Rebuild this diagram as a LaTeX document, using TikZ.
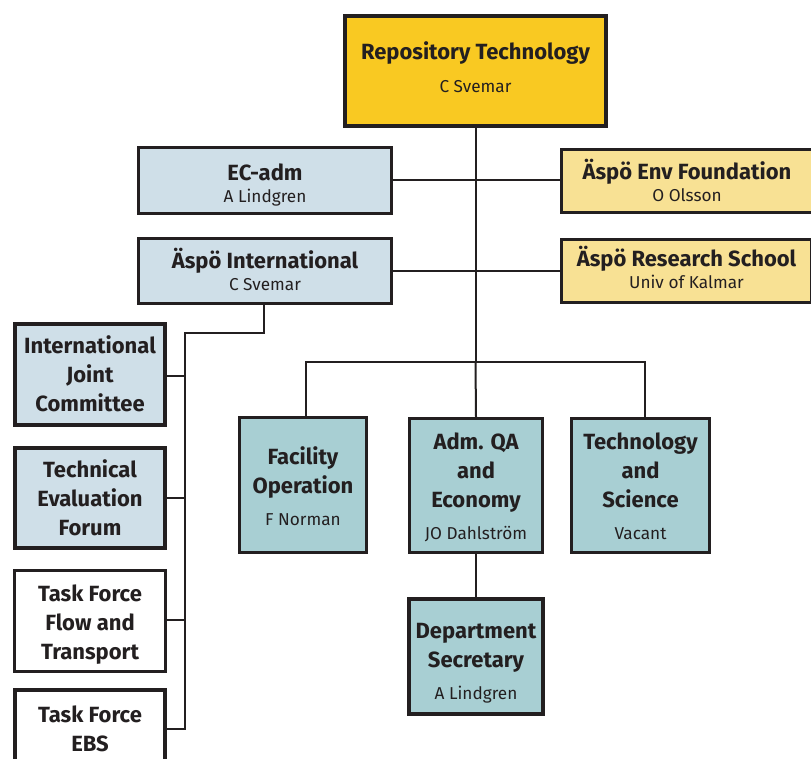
\documentclass[tikz,border=0pt]{standalone}
\usepackage{fontspec}
\setmainfont{Fira Sans}
\definecolor{ink}{HTML}{231F20}
\definecolor{gold}{HTML}{F9C922}
\definecolor{paleblue}{HTML}{CFDFE8}
\definecolor{paleyellow}{HTML}{F8E194}
\definecolor{teal}{HTML}{A8CFD3}
\newcommand\ttl{\fontsize{22}{29}\selectfont\bfseries}
\newcommand\sbt{\fontsize{17.2}{20}\selectfont\mdseries}
\newcommand\hs[1]{\rule{0pt}{#1pt}}
\newcommand\ds[1]{\rule[-#1pt]{0pt}{#1pt}}
\begin{document}
\begin{tikzpicture}[x=1pt,y=-1pt,
  box/.style={draw=ink,line width=3pt,inner sep=0pt,align=center,font=\ttl,text=ink},
  heavy/.style={line width=4pt},
  link/.style={draw=ink,line width=2pt}]
\useasboundingbox (0,0) rectangle (811,758);
% top
\node[box,heavy,fill=gold,minimum width=261pt,minimum height=110pt] (rep) at (475.5,71) {\hs{24}Repository Technology\\[4pt]{\sbt C Svemar\ds{14.4}}};
% staff level
\node[box,fill=paleblue,minimum width=253pt,minimum height=66pt] (ecadm) at (265,180) {\hs{26}EC-adm\\[-7pt]{\sbt A Lindgren}};
\node[box,fill=paleyellow,minimum width=251pt,minimum height=63pt] (env) at (687,180.5) {\hs{24}Äspö Env Foundation\\[-7pt]{\sbt O Olsson\ds{4}}};
\node[box,fill=paleblue,minimum width=253pt,minimum height=65pt] (intl) at (265,271) {\hs{24}Äspö International\\[-7pt]{\sbt C Svemar\ds{8}}};
\node[box,fill=paleyellow,minimum width=250pt,minimum height=63pt] (school) at (686.5,271) {\hs{24}Äspö Research School\\[-7pt]{\sbt Univ of Kalmar\ds{10.6}}};
% left column
\node[box,heavy,fill=paleblue,minimum width=150pt,minimum height=101pt] (ijc) at (90,374.5) {\hs{24}International\\Joint\\Committee\ds{8.4}};
\node[box,heavy,fill=paleblue,minimum width=150pt,minimum height=100pt] (tef) at (90,498) {\hs{24}Technical\\Evaluation\\Forum\ds{8}};
\node[box,fill=white,minimum width=151pt,minimum height=101pt] (tfft) at (90,621) {\hs{24}Task Force\\Flow and\\Transport\ds{6}};
\node[box,heavy,fill=white,minimum width=150pt,minimum height=77pt] (ebs) at (90,728.5) {\hs{24}Task Force\\EBS\ds{7.4}};
% departments
\node[box,fill=teal,minimum width=127pt,minimum height=135pt] (fac) at (303,485) {\hs{24}Facility\\Operation\\[3pt]{\sbt F Norman\ds{5}}};
\node[box,fill=teal,minimum width=133pt,minimum height=134pt] (adm) at (476,485.5) {\hs{24}Adm. QA\\and\\Economy\\[3pt]{\sbt JO Dahlström\ds{6.4}}};
\node[box,fill=teal,minimum width=138pt,minimum height=134pt] (tech) at (640.5,485.5) {\hs{24}Technology\\and\\Science\\[3pt]{\sbt Vacant\ds{6.4}}};
\node[box,heavy,fill=teal,minimum width=134pt,minimum height=115pt] (dept) at (476,656.5) {\hs{28}Department\\Secretary\\[3pt]{\sbt A Lindgren}};
% connectors
\coordinate (bus) at (475.5,362);
\coordinate (lb) at (185,333);
\draw[link] (rep.south) -- (bus);
\draw[link] ([xshift=3pt]fac.north) |- (bus) -| ([xshift=4.5pt]tech.north);
\draw[link] (bus) -- (adm.north);
\draw[link] (adm.south) -- (dept.north);
\draw[link] (ecadm.east) -- (env.west |- ecadm.east);
\draw[link] (intl.east) -- (intl.east -| school.west);
\draw[link] ([xshift=-1pt]intl.south) |- (lb) -- (lb |- ebs.east) -- (ebs.east);
\draw[link] ([yshift=-1.5pt]ijc.east) -- ([yshift=-1.5pt]ijc.east -| lb);
\draw[link] (tef.east) -- (tef.east -| lb);
\draw[link] ([yshift=1pt]tfft.east) -- ([yshift=1pt]tfft.east -| lb);
\end{tikzpicture}
\end{document}
